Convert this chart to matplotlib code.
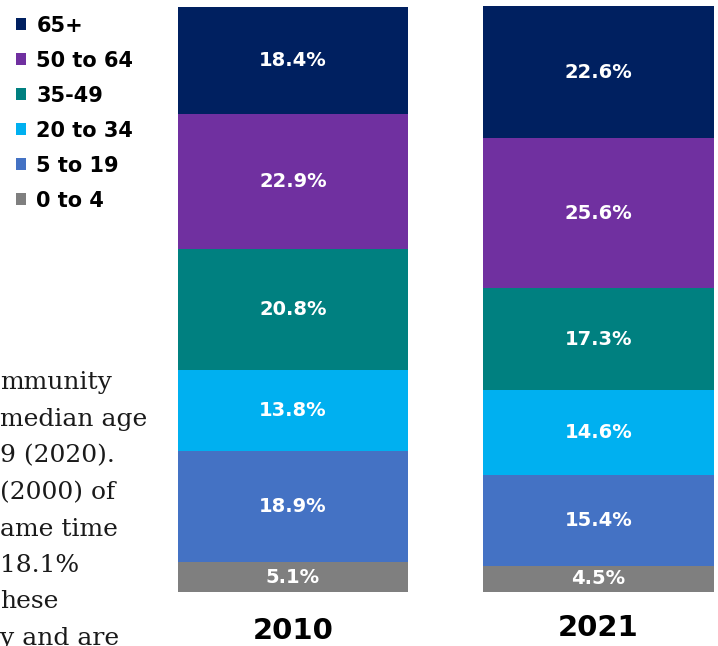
import matplotlib.pyplot as plt
from matplotlib.patches import Patch

# Age group shares (%) by year, bottom to top
years = ["2010", "2021"]
groups = ["0 to 4", "5 to 19", "20 to 34", "35-49", "50 to 64", "65+"]
share_2010 = [5.1, 18.9, 13.8, 20.8, 22.9, 18.4]
share_2021 = [4.5, 15.4, 14.6, 17.3, 25.6, 22.6]
colors = ["#7F7F7F", "#4472C4", "#00B0F0", "#008080", "#7030A0", "#002060"]

# Cut-off side text on the left
side_text = ["mmunity", "median age", "9 (2020).", "(2000) of",
             "ame time", "18.1%", "hese", "y and are"]

fig = plt.figure(figsize=(7.18, 6.46), dpi=100)
ax = fig.add_axes([0, 1 - 592 / 646, 1, 586 / 646])

x = [0, 1]
width = 0.755
data = [share_2010, share_2021]
for i, vals in enumerate(data):
    bottom = 0
    for j, v in enumerate(vals):
        ax.bar(x[i], v, width, bottom=bottom, color=colors[j], edgecolor="none")
        ax.text(x[i], bottom + v / 2, f"{v}%", ha="center", va="center",
                color="white", fontsize=14, fontweight="bold")
        bottom += v

px = 305.5  # pixels per unit between bar centres
ax.set_xlim(-293 / px, (718 - 293) / px)
ax.set_ylim(0, 100)
ax.axis("off")

# Year labels under the bars
for i, yr in enumerate(years):
    ax.text(x[i], -6.6 + 0.5 * i, yr, ha="center", va="center", fontsize=21,
            fontweight="bold", color="black", clip_on=False)

# Legend, 65+ on top
handles = [Patch(facecolor=c, edgecolor="none") for c in colors[::-1]]
fig.legend(handles, groups[::-1], loc="upper left", bbox_to_anchor=(0.0, 1.0),
           frameon=False, handlelength=0.5, handleheight=0.5, handletextpad=0.5,
           labelspacing=0.72, prop={"size": 15, "weight": "bold"}, borderaxespad=0.35)

# Left text block, clipped by the figure edge
for k, line in enumerate(side_text):
    y = 1 - (383 + k * 36.5) / 646
    fig.text(0.0, y, line, ha="left", va="center", fontsize=18,
             family="DejaVu Serif", color="#1a1a1a")

plt.savefig("out.png", dpi=100)
